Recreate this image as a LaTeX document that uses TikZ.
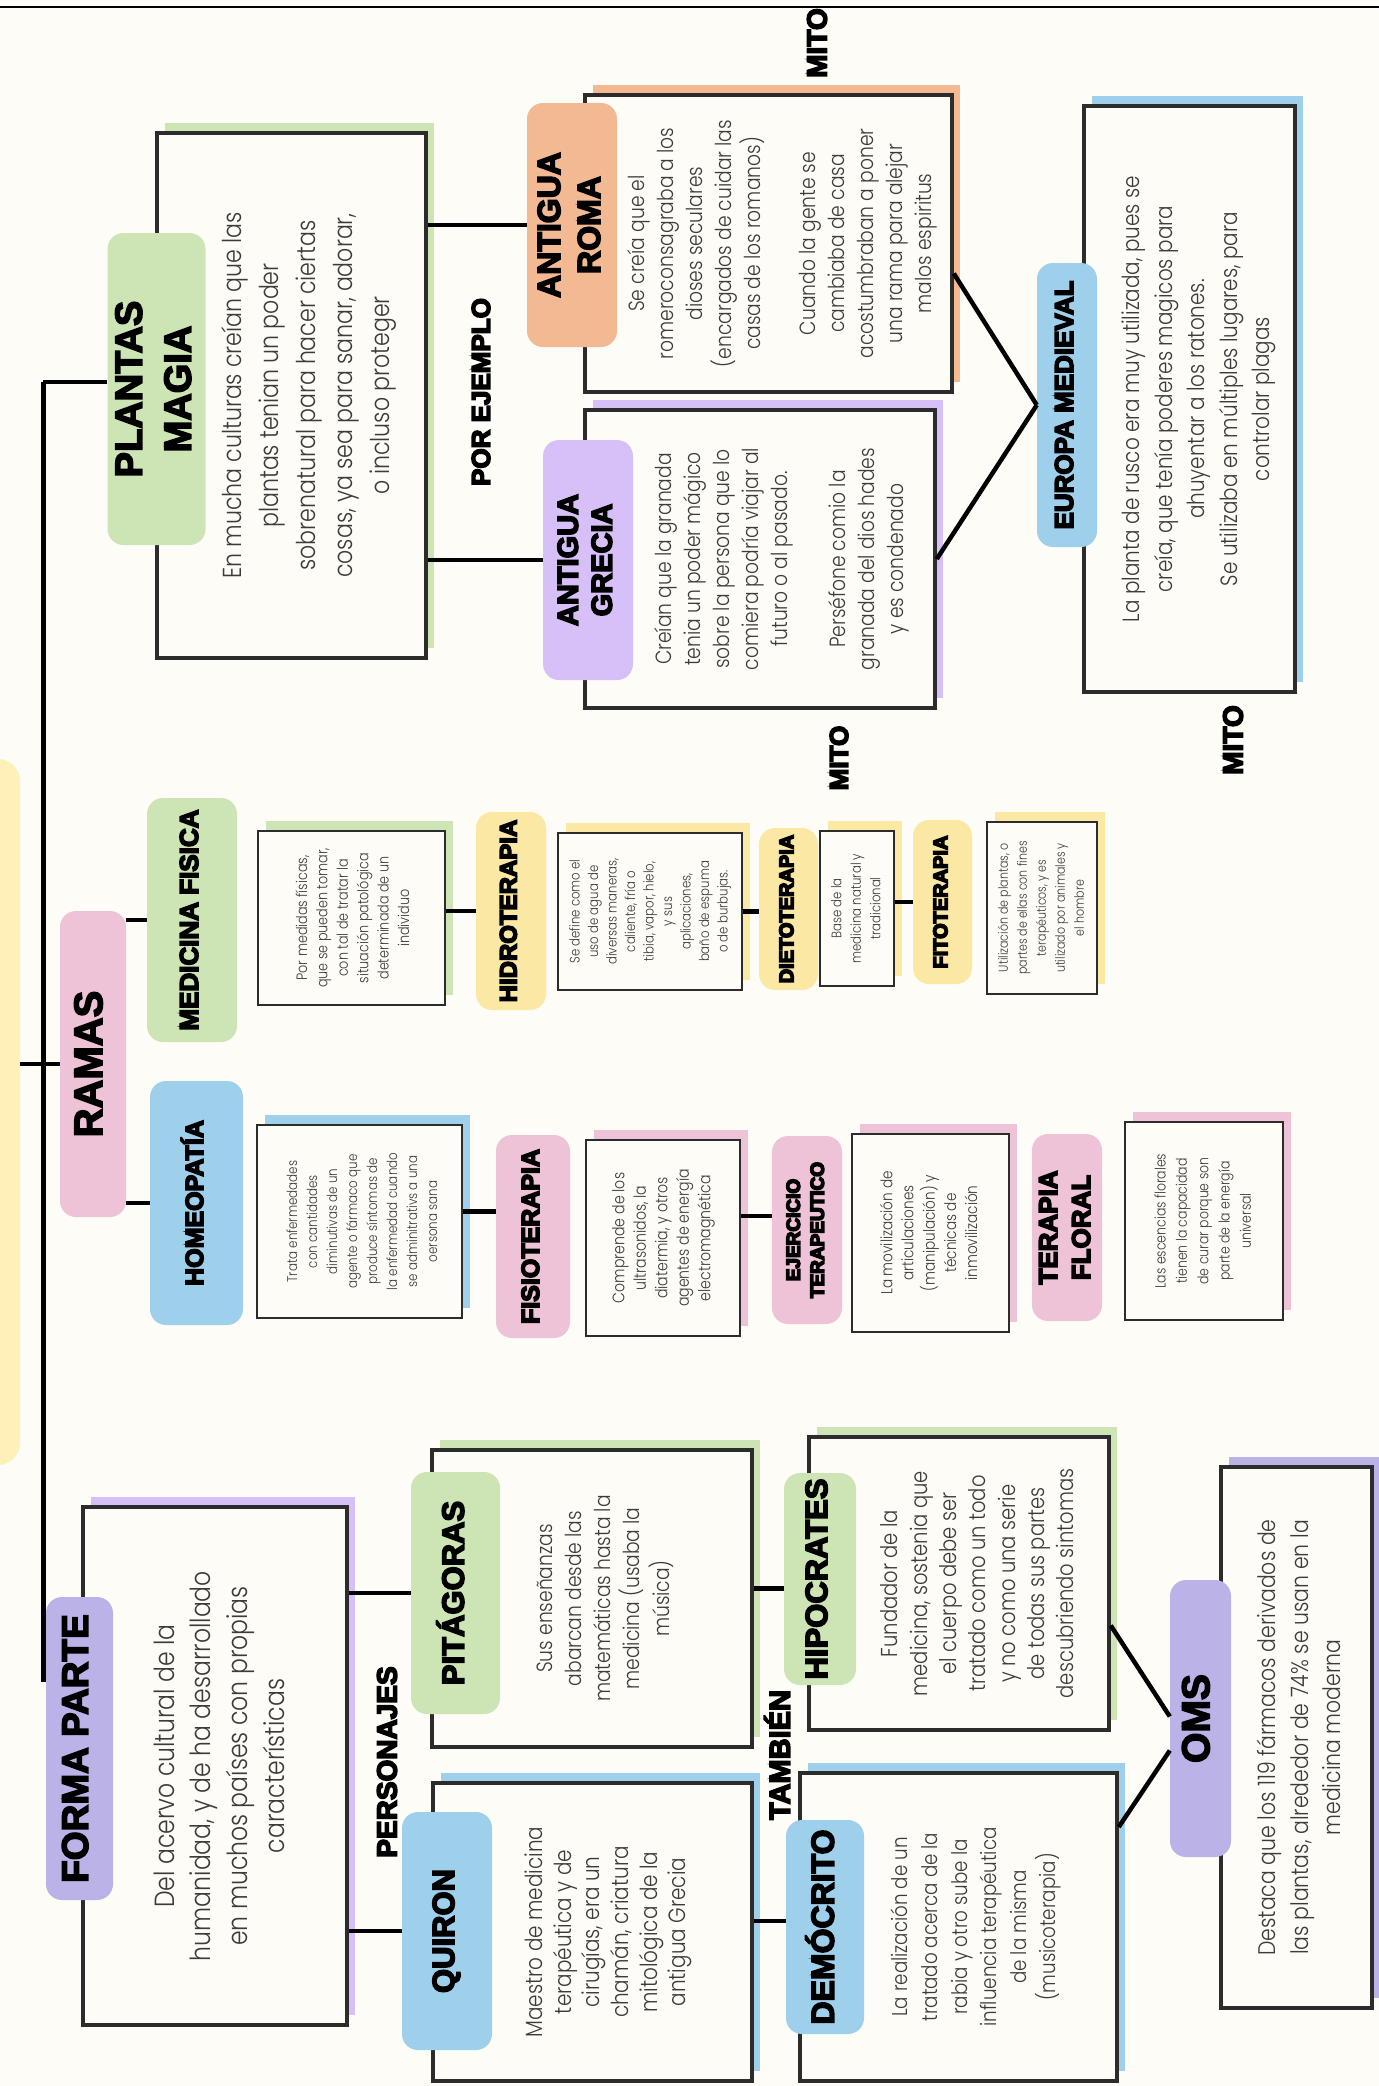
\documentclass[tikz,border=0pt]{standalone}
\usepackage{fontspec}
\usepackage{graphicx}
\usepackage{tikz}
\IfFontExistsTF{Poppins Light}{\newfontfamily\bodyfont[FakeStretch=0.85]{Poppins Light}}{\newfontfamily\bodyfont[FakeStretch=0.85]{Poppins}}
\newfontfamily\headfont{Liberation Sans Bold}
\definecolor{paper}{HTML}{FDFCF6}
\definecolor{ink}{HTML}{2C2C2C}
\definecolor{tinta}{HTML}{3B3B3B}
\definecolor{verde}{HTML}{CDE5B5}
\definecolor{naranja}{HTML}{F3B993}
\definecolor{lila}{HTML}{D6C0F7}
\definecolor{lilab}{HTML}{BBB3E8}
\definecolor{azul}{HTML}{9FD0EB}
\definecolor{rosa}{HTML}{EEC3D7}
\definecolor{amarillo}{HTML}{FCE8A5}
\definecolor{amarilloc}{HTML}{FEF0B8}
\newcommand{\vtxt}[1]{\rotatebox{90}{\begin{tabular}{@{}c@{}}#1\end{tabular}}}
\newcommand{\grueso}[1]{\special{pdf:literal direct 2 Tr 1.5 w}#1\special{pdf:literal direct 0 Tr}}
\newcommand{\vtit}[1]{\grueso{\vtxt{#1}}}
\newcommand{\rtit}[1]{\grueso{\rotatebox{90}{#1}}}

\begin{document}
\begin{tikzpicture}[x=1pt,y=-1pt,
		conn/.style={draw=black, line width=4.5pt},
		pill/.style={fill=#1, rounded corners=16pt, inner sep=0pt, text=black},
		caja/.style={draw=ink, line width=3.5pt, fill=paper, inner sep=0pt, text=tinta, preaction={fill=#1, transform canvas={shift={(8pt,10pt)}}}},
		cajita/.style={caja=#1, line width=2.6pt},
		cuerpo/.style 2 args={font=\bodyfont\fontsize{#1}{#2}\selectfont},
		titulo/.style 2 args={font=\headfont\fontsize{#1}{#2}\selectfont},
		rotulo/.style={inner sep=0pt, text=black, font=\headfont\fontsize{#1}{#1}\selectfont}]
		\fill[paper] (0,0) rectangle (1379,2086);
		\useasboundingbox (0,0) rectangle (1379,2086);
		\draw[line width=1.5pt] (0,7) -- (1379,7);
		%Centro
		\node[pill=amarilloc, rounded corners=22pt, minimum width=100pt, minimum height=706pt] (centro) at (-30,1112) {};
		\coordinate (spinetop) at (43,382);
		\coordinate (spinebot) at (43,1682);
		%Cajas
		\node[caja=verde, minimum width=269pt, minimum height=525pt, cuerpo={26}{37}] (plantasbox) at (291.5,395.5) {\hspace{33pt}\vtxt{En mucha culturas creían que las\\plantas tenian un poder\\sobrenatural para hacer ciertas\\cosas, ya sea para sanar, adorar,\\o incluso proteger}};
		\node[caja=naranja, minimum width=367pt, minimum height=297pt, cuerpo={22}{29}] (romabox) at (768.5,243.5) {\hspace{27pt}\vtxt{Se creía que el\\romeroconsagraba a los\\dioses seculares\\(encargados de cuidar las\\casas de los romanos)\\[26pt]Cuando la gente se\\cambiaba de casa\\acostumbraban a poner\\una rama para alejar\\malos espiritus}};
		\node[caja=lila, minimum width=350pt, minimum height=298pt, cuerpo={22}{29}] (greciabox) at (760,559) {\hspace{43pt}\vtxt{Creían que la granada\\tenia un poder mágico\\sobre la persona que lo\\comiera podría viajar al\\futuro o al pasado.\\[29pt]Perséfone comio la\\granada del dios hades\\y es condenado}};
		\node[caja=azul, minimum width=211pt, minimum height=586pt, cuerpo={23.5}{32.5}] (europabox) at (1189.5,399) {\hspace{17pt}\vtxt{La planta de rusco era muy utilizada, pues se\\creía, que tenía poderes magicos para\\ahuyentar a los ratones.\\Se utilizaba en múltiples lugares, para\\controlar plagas}};
		\node[cajita=verde, minimum width=187pt, minimum height=174pt, cuerpo={15}{20.4}] (medbox) at (351.5,918) {\hspace{5pt}\vtxt{Por medidas físicas,\\que se pueden tomar,\\con tal de tratar la\\situación patológica\\determinada de un\\individuo}};
		\node[cajita=azul, minimum width=205pt, minimum height=193pt, cuerpo={14}{20}] (homeobox) at (359.5,1221.5) {\hspace{7pt}\vtxt{Trata enfermedades\\con cantidades\\diminutivas de un\\agente o fármaco que\\produce síntomas de\\la enfermedad cuando\\se adminitrativs a una\\oersona sana}};
		\node[cajita=amarillo, minimum width=184pt, minimum height=157pt, cuerpo={13.8}{18.5}] (hidrobox) at (650,911.5) {\vtxt{Se define como el\\uso de agua de\\diversas maneras,\\caliente, fría o\\tibia, vapor, hielo,\\y sus\\aplicaciones,\\baño de espuma\\o de burbujas.}};
		\node[cajita=amarillo, minimum width=74pt, minimum height=155pt, cuerpo={13.8}{19.5}] (dietobox) at (857,908.5) {\vtxt{Base de la\\medicina natural y\\tradicional}};
		\node[cajita=amarillo, minimum width=110pt, minimum height=172pt, cuerpo={13}{19}] (fitobox) at (1042,908) {\vtxt{Utilización de plantas, o\\partes de ellas con fines\\terapéuticos, y es\\utilizado por animales y\\el hombre}};
		\node[cajita=rosa, minimum width=154pt, minimum height=196pt, cuerpo={16.6}{21.5}] (fisiobox) at (663,1238) {\vtxt{Comprende de los\\ultrasonidos, la\\diatermia, y otros\\agentes de energía\\electromagnética}};
		\node[cajita=rosa, minimum width=157pt, minimum height=198pt, cuerpo={16}{21.2}] (ejerbox) at (930.5,1233) {\vtxt{La movilización de\\articulaciones\\(manipulación) y\\técnicas de\\inmovilización}};
		\node[cajita=rosa, minimum width=158pt, minimum height=198pt, cuerpo={14.7}{21.3}] (floralbox) at (1204,1221) {\vtxt{Las escencias florales\\tienen la capacidad\\de curar porque son\\parte de la energía\\universal}};
		\node[caja=lila, minimum width=264pt, minimum height=518pt, cuerpo={27.7}{36.7}] (formabox) at (215,1766) {\hspace{14pt}\vtxt{Del acervo cultural de la\\humanidad, y de ha desarrollado\\en muchos países con propias\\características}};
		\node[caja=verde, minimum width=320pt, minimum height=297pt, cuerpo={22}{29}] (pitabox) at (592,1598.5) {\hspace{26pt}\vtxt{Sus enseñanzas\\abarcan desde las\\matemáticas hasta la\\medicina (usaba la\\música)}};
		\node[caja=azul, minimum width=319pt, minimum height=298pt, cuerpo={23.5}{28.6}] (quironbox) at (592.5,1932) {\hspace{32pt}\vtxt{Maestro de medicina\\terapéutica y de\\cirugías, era un\\chamán, criatura\\mitológica de la\\antigua Grecia}};
		\node[caja=verde, minimum width=300pt, minimum height=293pt, cuerpo={23}{29.3}] (hipobox) at (959,1583.5) {\hspace{42pt}\vtxt{Fundador de la\\medicina, sostenia que\\el cuerpo debe ser\\tratado como un todo\\y no como una serie\\de todas sus partes\\descubriendo sintomas}};
		\node[caja=azul, minimum width=317pt, minimum height=308pt, cuerpo={21.5}{29.6}] (demobox) at (958.5,1927) {\hspace{35pt}\vtxt{La realización de un\\tratado acerca de la\\rabia y otro sube la\\influencia terapéutica\\de la misma\\(musicoterapia)}};
		\node[caja=lilab, minimum width=151pt, minimum height=541pt, cuerpo={24}{32.5}] (omsbox) at (1296.5,1737.5) {\hspace{10pt}\vtxt{Destaca que los 119 fármacos derivados de\\las plantas, alrededor de 74\% se usan en la\\medicina moderna}};
		%Etiquetas
		\node[pill=verde, minimum width=73pt, minimum height=312pt, titulo={38}{49}] (plantaspill) at (156.5,389) {\vtit{PLANTAS\\MAGIA}};
		\node[pill=naranja, minimum width=90pt, minimum height=244pt, titulo={32}{40}] (romapill) at (572,225) {\vtit{ANTIGUA\\ROMA}};
		\node[pill=lila, minimum width=90pt, minimum height=240pt, titulo={29}{34}] (greciapill) at (588,560) {\vtit{ANTIGUA\\GRECIA}};
		\node[pill=azul, minimum width=60pt, minimum height=284pt, titulo={26}{30}] (europapill) at (1067,405) {\vtit{EUROPA MEDIEVAL}};
		\node[pill=rosa, minimum width=66pt, minimum height=306pt, titulo={40}{46}] (ramaspill) at (93,1064) {\vtit{RAMAS}};
		\node[pill=verde, minimum width=90pt, minimum height=244pt, titulo={26}{30}] (medpill) at (192,920) {\vtit{MEDICINA FISICA}};
		\node[pill=azul, minimum width=93pt, minimum height=244pt, titulo={25}{30}] (homeopill) at (196.5,1203) {\vtit{HOMEOPATÍA}};
		\node[pill=amarillo, minimum width=70pt, minimum height=198pt, titulo={24}{28}] (hidropill) at (511,911) {\vtit{HIDROTERAPIA}};
		\node[pill=amarillo, minimum width=59pt, minimum height=162pt, titulo={20}{24}] (dietopill) at (788.5,909) {\vtit{DIETOTERAPIA}};
		\node[pill=amarillo, minimum width=59pt, minimum height=164pt, titulo={20}{24}] (fitopill) at (942.5,902) {\vtit{FITOTERAPIA}};
		\node[pill=rosa, minimum width=74pt, minimum height=203pt, titulo={25}{30}] (fisiopill) at (533,1236.5) {\vtit{FISIOTERAPIA}};
		\node[pill=rosa, minimum width=70pt, minimum height=188pt, titulo={19}{24}] (ejerpill) at (807,1230) {\vtit{EJERCICIO\\TERAPEUTICO}};
		\node[pill=rosa, minimum width=70pt, minimum height=187pt, titulo={26}{33}] (floralpill) at (1067,1227.5) {\vtit{TERAPIA\\FLORAL}};
		\node[pill=lilab, minimum width=67pt, minimum height=303pt, titulo={37}{42}] (formapill) at (79.5,1748.5) {\vtit{FORMA PARTE}};
		\node[pill=verde, minimum width=89pt, minimum height=242pt, titulo={31}{36}] (pitapill) at (455.5,1593) {\vtit{PITÁGORAS}};
		\node[pill=azul, minimum width=90pt, minimum height=238pt, titulo={31}{36}] (quironpill) at (447,1931) {\vtit{QUIRON}};
		\node[pill=verde, minimum width=72pt, minimum height=212pt, titulo={31}{36}] (hipopill) at (820,1579) {\vtit{HIPOCRATES}};
		\node[pill=azul, minimum width=78pt, minimum height=214pt, titulo={32}{36}] (demopill) at (825,1927) {\vtit{DEMÓCRITO}};
		\node[pill=lilab, minimum width=61pt, minimum height=277pt, titulo={39}{44}] (omspill) at (1200.5,1718.5) {\vtit{OMS}};
		%Rotulos
		\node[rotulo=26] (porejemplo) at (481,392) {\rtit{POR EJEMPLO}};
		\node[rotulo=28] (mitoa) at (817,43) {\rtit{MITO}};
		\node[rotulo=26] (mitob) at (839,758) {\rtit{MITO}};
		\node[rotulo=28] (mitoc) at (1233,740) {\rtit{MITO}};
		\node[rotulo=28] (personajes) at (387,1762) {\rtit{PERSONAJES}};
		\node[rotulo=29] (tambien) at (777,1755) {\rtit{TAMBIÉN}};
		%Conectores
		\draw[conn, line width=5pt] (spinetop) -- (spinebot);
		\draw[conn] (spinetop) -- (spinetop -| plantaspill.west);
		\draw[conn] (centro.east |- ramaspill) -- (ramaspill.west);
		\draw[conn] (ramaspill.east |- medpill) -- (medpill.west);
		\draw[conn] (ramaspill.east |- homeopill) -- (homeopill.west);
		\draw[conn] (plantasbox.east |- romapill) -- (romapill.west);
		\draw[conn] (plantasbox.east |- greciapill) -- (greciapill.west);
		\draw[conn] ([yshift=-30pt]romabox.east) -- (europapill.west);
		\draw[conn] (greciabox.east) -- (europapill.west);
		\draw[conn] (medbox.east |- hidropill) -- (hidropill.west);
		\draw[conn] (hidrobox.east) -- (dietopill.west |- hidrobox.east);
		\draw[conn] (dietobox.east |- fitopill) -- (fitopill.west);
		\draw[conn] ([yshift=10pt]homeobox.east) -- ([yshift=10pt]homeobox.east -| fisiopill.west);
		\draw[conn] ([yshift=14pt]ejerpill.west -| fisiobox.east) -- ([yshift=14pt]ejerpill.west);
		\draw[conn] (formabox.east |- pitapill) -- (pitapill.west);
		\draw[conn] (formabox.east |- quironpill) -- (quironpill.west);
		\draw[conn] ([yshift=10pt]pitabox.east) -- ([yshift=10pt]pitabox.east -| hipopill.west);
		\draw[conn] ([yshift=6pt]demopill.west -| quironbox.east) -- ([yshift=6pt]demopill.west);
		\draw[conn] ([yshift=-42pt]hipobox.east) -- ([yshift=2pt]omspill.west);
		\draw[conn] ([yshift=100pt]demobox.east) -- ([yshift=-32pt]omspill.west);
\end{tikzpicture}
\end{document}
